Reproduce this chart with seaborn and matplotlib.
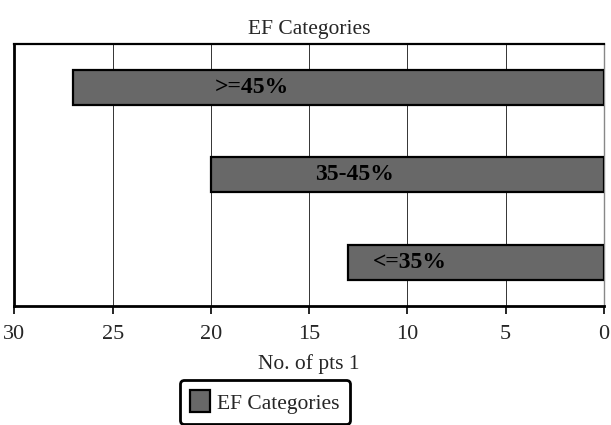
import matplotlib
matplotlib.use("Agg")
import matplotlib.pyplot as plt
import seaborn as sns
import pandas as pd
from matplotlib.patches import Patch

# EF category counts
categories = [">=45%", "35-45%", "<=35%"]
counts = [27, 20, 13]
x_ticks = [30, 25, 20, 15, 10, 5, 0]

df = pd.DataFrame({"category": categories, "count": counts})

sns.set_theme(style="white")
plt.rcParams["font.family"] = ["Liberation Serif", "DejaVu Serif"]

bar_color = "#686868"

fig = plt.figure(figsize=(6.11, 4.25), dpi=100)
ax = fig.add_axes([0.0235, 0.28, 0.965, 0.617])

sns.barplot(data=df, x="count", y="category", orient="h", color=bar_color,
            width=0.4, edgecolor="black", linewidth=1.6, saturation=1,
            ax=ax, zorder=3)

ax.set_xlim(30, 0)
ax.set_ylim(2.5, -0.5)
ax.set_xticks(x_ticks)
ax.set_xticklabels([str(t) for t in x_ticks], fontsize=16)
ax.set_yticks([])
ax.set_ylabel("")
ax.set_xlabel("No. of pts 1", fontsize=15.5, labelpad=7)
ax.set_title("EF Categories", fontsize=15.5, pad=7)

ax.xaxis.grid(True, color="#333333", linewidth=0.7, zorder=0)
ax.set_axisbelow(True)
ax.tick_params(axis="x", which="both", bottom=True, direction="out",
               length=6, width=1.2, color="black", pad=8)

for side in ["left", "bottom"]:
    ax.spines[side].set_color("black")
    ax.spines[side].set_linewidth(2.0)
ax.spines["top"].set_color("black")
ax.spines["top"].set_linewidth(1.6)
ax.spines["right"].set_color("#888888")
ax.spines["right"].set_linewidth(1.0)

# labels drawn inside each bar
label_x = [17.9, 12.7, 9.9]
for i, (cat, lx) in enumerate(zip(categories, label_x)):
    ax.text(lx, i, cat, ha="center", va="center", fontsize=17,
            fontweight="bold", color="black", zorder=5)

handle = Patch(facecolor=bar_color, edgecolor="black", linewidth=1.6)
leg = fig.legend([handle], ["EF Categories"], loc="center",
                 bbox_to_anchor=(265 / 611, 1 - 402 / 425),
                 fontsize=15.5, frameon=True, fancybox=True,
                 handlelength=0.9, handleheight=1.2, handletextpad=0.35,
                 borderpad=0.5, borderaxespad=0)
frame = leg.get_frame()
frame.set_edgecolor("black")
frame.set_linewidth(2.0)
frame.set_facecolor("white")
frame.set_alpha(1)

fig.savefig("out.png", dpi=100)
